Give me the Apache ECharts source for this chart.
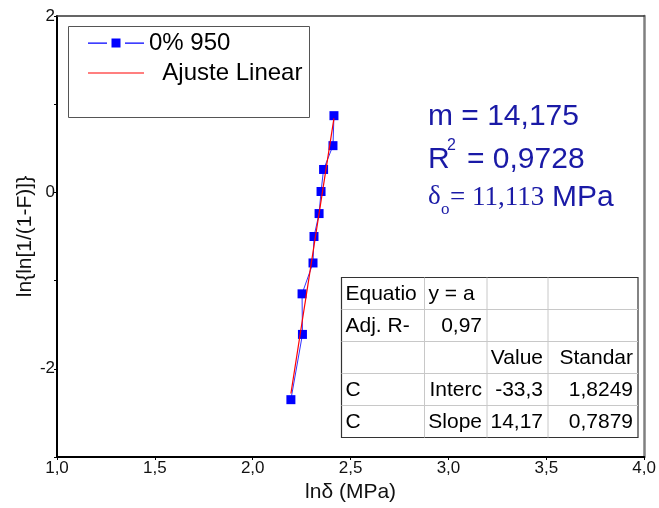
<!DOCTYPE html>
<html>
<head>
<meta charset="utf-8">
<script src="https://cdn.jsdelivr.net/npm/echarts@6/dist/echarts.min.js"></script>
<style>html,body{margin:0;padding:0;background:#fff;}#c{width:659px;height:508px;}</style>
</head>
<body>
<div id="c"></div>
<script>
// ---- data ----
const lnDelta = [2.195, 2.254, 2.252, 2.308, 2.313, 2.339, 2.349, 2.362, 2.410, 2.415];
const lnlnF   = [-2.35, -1.61, -1.15, -0.80, -0.50, -0.24, 0.01, 0.26, 0.53, 0.87];
const fitX = [2.195, 2.415];
const fitY = [-2.28, 0.84];
const seriesNames = ['0% 950', 'Ajuste Linear'];
const xTicks = [1.0, 1.5, 2.0, 2.5, 3.0, 3.5, 4.0];
const yTickLabels = [-2, 0, 2];
const tableRows = [
  ['Equatio', 'y = a', '', ''],
  ['Adj. R-', '0,97', '', ''],
  ['', '', 'Value', 'Standar'],
  ['C', 'Interc', '-33,3', '1,8249'],
  ['C', 'Slope', '14,17', '0,7879']
];
const annM = 'm = 14,175';
const annR = ['R', '2', '= 0,9728'];
const annD = ['\u03b4', 'o', '= 11,113', 'MPa'];

// ---- chart ----
const chart = echarts.init(document.getElementById('c'));
const FONT = "'Liberation Sans', Arial, sans-serif";
const SERIF = "'Liberation Serif', 'Times New Roman', serif";
const BLUE_TXT = '#1a1aa6';

const tX = [341.5, 424.5, 487, 548, 638];
const tY0 = 277.5, tRowH = 32;
const tableEls = [];
tableEls.push({type:'rect', shape:{x:tX[0], y:tY0, width:tX[4]-tX[0], height:tRowH*5}, style:{fill:'#fff', stroke:'#333', lineWidth:1.2}, z:10});
for (let r = 1; r < 5; r++) {
  tableEls.push({type:'line', shape:{x1:tX[0], y1:tY0 + r*tRowH, x2:tX[4], y2:tY0 + r*tRowH}, style:{stroke:'#c8c8c8', lineWidth:1}, z:11});
}
for (let c = 1; c < 4; c++) {
  tableEls.push({type:'line', shape:{x1:tX[c], y1:tY0, x2:tX[c], y2:tY0 + 5*tRowH}, style:{stroke:'#c8c8c8', lineWidth:1}, z:11});
}
tableRows.forEach((row, r) => {
  row.forEach((txt, c) => {
    if (!txt) return;
    const leftAlign = (c === 0) || (r === 0 && c === 1);
    tableEls.push({type:'text', z:12,
      x: leftAlign ? tX[c] + 4 : tX[c+1] - 5,
      y: tY0 + r*tRowH + tRowH/2 + 1,
      style:{text: txt, fill:'#000', font: '21px ' + FONT, textAlign: leftAlign ? 'left' : 'right', textVerticalAlign:'middle'}});
  });
});

const annEls = [
  {type:'text', x:428, y:117, style:{text: annM, fill: BLUE_TXT, font:'30px ' + FONT, textVerticalAlign:'middle'}},
  {type:'text', x:428, y:160, style:{text: annR[0], fill: BLUE_TXT, font:'30px ' + FONT, textVerticalAlign:'middle'}},
  {type:'text', x:447, y:146, style:{text: annR[1], fill: BLUE_TXT, font:'16px ' + FONT, textVerticalAlign:'middle'}},
  {type:'text', x:467, y:160, style:{text: annR[2], fill: BLUE_TXT, font:'30px ' + FONT, textVerticalAlign:'middle'}},
  {type:'text', x:428, y:197, style:{text: annD[0], fill: BLUE_TXT, font:'27px ' + SERIF, textVerticalAlign:'middle'}},
  {type:'text', x:441, y:210, style:{text: annD[1], fill: BLUE_TXT, font:'17px ' + SERIF, textVerticalAlign:'middle'}},
  {type:'text', x:450, y:198, style:{text: annD[2], fill: BLUE_TXT, font:'27px ' + SERIF, textVerticalAlign:'middle'}},
  {type:'text', x:552, y:198, style:{text: annD[3], fill: BLUE_TXT, font:'30px ' + FONT, textVerticalAlign:'middle'}}
];

const legendBox = {type:'rect', shape:{x:68.5, y:26.5, width:241, height:91}, style:{fill:'none', stroke:'#555', lineWidth:1}, z:5};

const fmtComma = v => Number(v).toFixed(1).replace('.', ',');

const option = {
  animation: false,
  backgroundColor: '#fff',
  grid: {left:57, right:12, top:16, bottom:51, containLabel:false},
  legend: {
    orient:'vertical', left:83, top:26, itemWidth:56, itemHeight:9, itemGap:6,
    itemStyle:{borderWidth:0},
    data: [
      {name: seriesNames[0], icon: 'path://M0,4H19V5.2H0Z M23.5,0H32.5V9H23.5Z M37,4H56V5.2H37Z'},
      {name: seriesNames[1], icon: 'path://M0,4H56V5.2H0Z'}
    ],
    textStyle: {fontFamily: FONT, fontSize: 24, color:'#000'},
    formatter: n => n === seriesNames[1] ? '  ' + n : n
  },
  xAxis: [{
    type:'value', min:1, max:4, interval:0.5,
    name:'ln\u03b4 (MPa)', nameLocation:'middle', nameGap:23,
    nameTextStyle:{fontFamily:FONT, fontSize:21, color:'#111'},
    axisLine:{show:true, onZero:false, lineStyle:{color:'#000', width:2}},
    axisTick:{show:true, inside:false, length:3, lineStyle:{color:'#000'}},
    axisLabel:{fontFamily:FONT, fontSize:17, color:'#111', margin:3, formatter: v => xTicks.indexOf(v) >= 0 ? fmtComma(v) : ''},
    splitLine:{show:false}
  }, {
    type:'value', position:'top', min:1, max:4, interval:0.5,
    axisLine:{show:true, onZero:false, lineStyle:{color:'#333', width:1.5}},
    axisTick:{show:false}, axisLabel:{show:false}, splitLine:{show:false}
  }],
  yAxis: [{
    type:'value', min:-3, max:2, interval:1,
    name:'ln{ln[1/(1-F)]}', nameLocation:'middle', nameGap:21, nameMoveOverlap:false,
    nameTextStyle:{fontFamily:FONT, fontSize:21, color:'#111'},
    axisLine:{show:true, onZero:false, lineStyle:{color:'#000', width:2}},
    axisTick:{show:true, inside:false, length:3, lineStyle:{color:'#000'}},
    axisLabel:{fontFamily:FONT, fontSize:17, color:'#111', margin:2, formatter: v => yTickLabels.indexOf(v) >= 0 ? String(v) : ''},
    splitLine:{show:false}
  }, {
    type:'value', position:'right', min:-3, max:2, interval:1,
    axisLine:{show:true, onZero:false, lineStyle:{color:'#808080', width:2.5}},
    axisTick:{show:false}, axisLabel:{show:false}, splitLine:{show:false}
  }],
  series: [
    {
      name: seriesNames[0], type:'line',
      data: lnDelta.map((x, i) => [x, lnlnF[i]]),
      symbol:'rect', symbolSize:9,
      itemStyle:{color:'#0000ff'},
      lineStyle:{color:'#3333ff', width:1},
      z:3
    },
    {
      name: seriesNames[1], type:'line',
      data: fitX.map((x, i) => [x, fitY[i]]),
      symbol:'none',
      itemStyle:{color:'#ff0000'},
      lineStyle:{color:'#ff0000', width:1.2},
      z:4
    }
  ],
  graphic: [legendBox].concat(tableEls, annEls)
};
chart.setOption(option);
</script>
</body>
</html>
